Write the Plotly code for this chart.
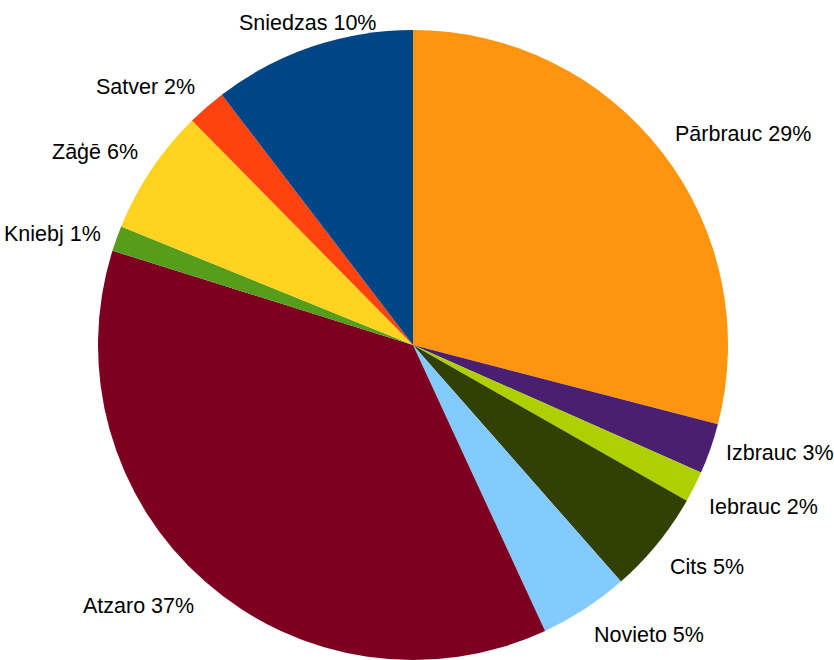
import math
import plotly.graph_objects as go

# Shares of each activity, clockwise from 12 o'clock
labels = ["Pārbrauc", "Izbrauc", "Iebrauc", "Cits", "Novieto",
          "Atzaro", "Kniebj", "Zāģē", "Satver", "Sniedzas"]
values = [29.1, 2.6, 1.6, 5.3, 4.6, 36.8, 1.3, 6.5, 2.0, 10.4]
colors = ["#FF950E", "#4B1F6F", "#AECF00", "#314004", "#83CAFF",
          "#7E0021", "#579D1C", "#FFD320", "#FF420E", "#004586"]

W, H = 834, 660
TOP = 30                 # top margin, px
diam = H - TOP           # pie diameter, px
r = diam / 2
cx, cy = 413, TOP + r    # pie centre, px
label_gap = 14           # distance of labels beyond the rim, px
font = dict(family="Liberation Sans, Arial, sans-serif", size=21.5, color="#000000")

fig = go.Figure(go.Pie(
    labels=labels,
    values=values,
    marker=dict(colors=colors, line=dict(width=0)),
    sort=False,
    direction="clockwise",
    rotation=0,
    textinfo="none",
    hoverinfo="label+percent",
    domain=dict(x=[(cx - r) / W, (cx + r) / W], y=[0, 1]),
    showlegend=False,
))

# Outside labels: one per slice, set just past the rim at the slice's mid-angle
total = sum(values)
cum = 0.0
annotations = []
for lab, v in zip(labels, values):
    frac = v / total
    mid = 2 * math.pi * (cum + frac / 2)
    cum += frac
    ux, uy = math.sin(mid), -math.cos(mid)   # screen direction (y down)
    px = cx + (r + label_gap) * ux
    py = cy + (r + label_gap) * uy
    xanchor = "left" if ux > 0.5 else "right" if ux < -0.5 else "center"
    yanchor = "top" if uy > 0.4 else "bottom" if uy < -0.5 else "middle"
    annotations.append(dict(
        x=px / W, y=(H - py) / (H - TOP), xref="paper", yref="paper",
        text=f"{lab} {round(frac * 100)}%", showarrow=False,
        xanchor=xanchor, yanchor=yanchor, font=font,
        yshift=-4 if yanchor == "bottom" else 0,
    ))

fig.update_layout(
    width=W, height=H,
    margin=dict(l=0, r=0, t=TOP, b=0),
    paper_bgcolor="white",
    plot_bgcolor="white",
    annotations=annotations,
)

fig.write_html("out.html")
